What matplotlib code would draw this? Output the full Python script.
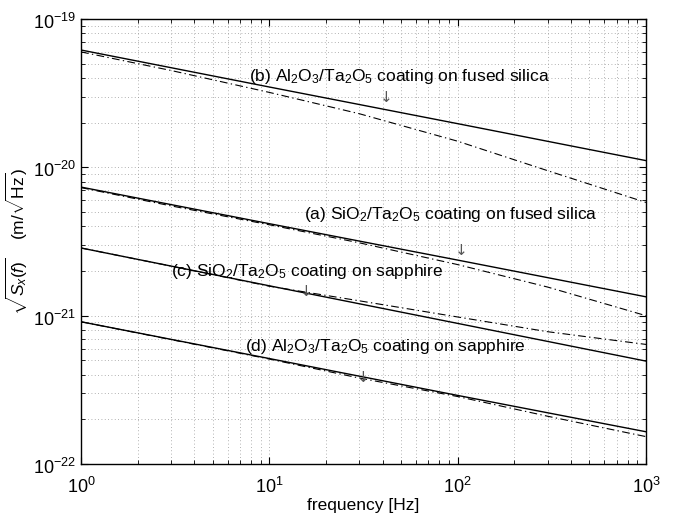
import matplotlib
matplotlib.use("Agg")
import matplotlib.pyplot as plt
import matplotlib.transforms as mtransforms
from matplotlib.ticker import LogLocator, NullFormatter, FixedLocator

plt.rcParams['font.family'] = ['Liberation Sans', 'DejaVu Sans']
plt.rcParams['mathtext.fontset'] = 'custom'
plt.rcParams['mathtext.rm'] = 'Liberation Sans'
plt.rcParams['mathtext.it'] = 'Liberation Sans:italic'
plt.rcParams['mathtext.bf'] = 'Liberation Sans:bold'

# solid curves (decade frequencies)
f_solid = [1, 10, 100, 1000]
solid_a = [7.36e-21, 4.17e-21, 2.37e-21, 1.34e-21]
solid_b = [6.18e-20, 3.48e-20, 1.97e-20, 1.11e-20]
solid_c = [2.86e-21, 1.59e-21, 8.87e-22, 4.94e-22]
solid_d = [9.1e-22, 5.14e-22, 2.9e-22, 1.65e-22]

# dash-dot curves
f_dash = [1, 3, 10, 30, 100, 300, 1000]
dash_a = [7.3e-21, 5.5e-21, 4.1e-21, 3.1e-21, 2.21e-21, 1.56e-21, 1.0e-21]
dash_b = [6.0e-20, 4.5e-20, 3.2e-20, 2.3e-20, 1.5e-20, 9.5e-21, 5.8e-21]
dash_c = [2.86e-21, 2.16e-21, 1.58e-21, 1.26e-21, 9.8e-22, 7.8e-22, 6.4e-22]
dash_d = [9.1e-22, 6.9e-22, 5.1e-22, 3.8e-22, 2.85e-22, 2.1e-22, 1.53e-22]

x_ticks = [1, 10, 100, 1000]
y_ticks = [1e-22, 1e-21, 1e-20, 1e-19]

labels = [
    "(b) Al$_2$O$_3$/Ta$_2$O$_5$ coating on fused silica",
    "(a) SiO$_2$/Ta$_2$O$_5$ coating on fused silica",
    "(c) SiO$_2$/Ta$_2$O$_5$ coating on sapphire",
    "(d) Al$_2$O$_3$/Ta$_2$O$_5$ coating on sapphire",
]
label_x = [7.8, 15.2, 3.0, 7.4]
label_y = [4.1e-20, 4.8e-21, 2.0e-21, 6.15e-22]
arrow_x = [42.0, 105.0, 15.8, 31.5]
arrow_y = [2.94e-20, 2.75e-21, 1.46e-21, 3.82e-22]

fig = plt.figure(figsize=(6.79, 5.15), dpi=100)
ax = fig.add_axes([0.1193, 0.099, 0.8321, 0.8641])

for ys in (solid_a, solid_b, solid_c, solid_d):
    ax.plot(f_solid, ys, color='black', lw=1.0, ls='-')
for ys in (dash_a, dash_b, dash_c, dash_d):
    ax.plot(f_dash, ys, color='black', lw=0.8, ls=(0, (7, 3, 1.2, 3)))

ax.set_xscale('log')
ax.set_yscale('log')
ax.set_xlim(1, 1000)
ax.set_ylim(1e-22, 1e-19)

ax.xaxis.set_major_locator(FixedLocator(x_ticks))
ax.yaxis.set_major_locator(FixedLocator(y_ticks))
ax.set_xticklabels([r"$10^{%d}$" % i for i in range(0, 4)])
ax.set_yticklabels([r"$10^{%d}$" % i for i in range(-22, -18)])
ax.xaxis.set_minor_locator(LogLocator(base=10, subs=range(2, 10), numticks=20))
ax.yaxis.set_minor_locator(LogLocator(base=10, subs=range(2, 10), numticks=20))
ax.xaxis.set_minor_formatter(NullFormatter())
ax.yaxis.set_minor_formatter(NullFormatter())

ax.grid(True, which='both', ls=(0, (1, 3)), color='#999999', lw=0.6)
ax.tick_params(which='both', direction='in', top=True, right=True, labelsize=13)
ax.tick_params(which='major', length=5, width=0.8)
ax.tick_params(which='minor', length=3, width=0.6)
ax.tick_params(axis='x', which='major', pad=9)
for sp in ax.spines.values():
    sp.set_linewidth(1.0)

shift = mtransforms.ScaledTranslation(0, -1.5 / 72.0, fig.dpi_scale_trans)
for lab in ax.get_yticklabels():
    lab.set_transform(lab.get_transform() + shift)

for t, x, y in zip(labels, label_x, label_y):
    ax.text(x, y, t, fontsize=12.5, ha='left', va='center')
for x, y in zip(arrow_x, arrow_y):
    ax.text(x, y, "\u2193", fontsize=11, ha='center', va='center', color='#555555',
            family=['DejaVu Sans'])

ax.set_xlabel("frequency [Hz]", fontsize=12.5, labelpad=1)
ax.set_ylabel(r"$\sqrt{S_x(f)}$    (m/$\sqrt{\mathrm{Hz}}$)", fontsize=12.5, labelpad=2)

fig.savefig("out.png", dpi=100)
